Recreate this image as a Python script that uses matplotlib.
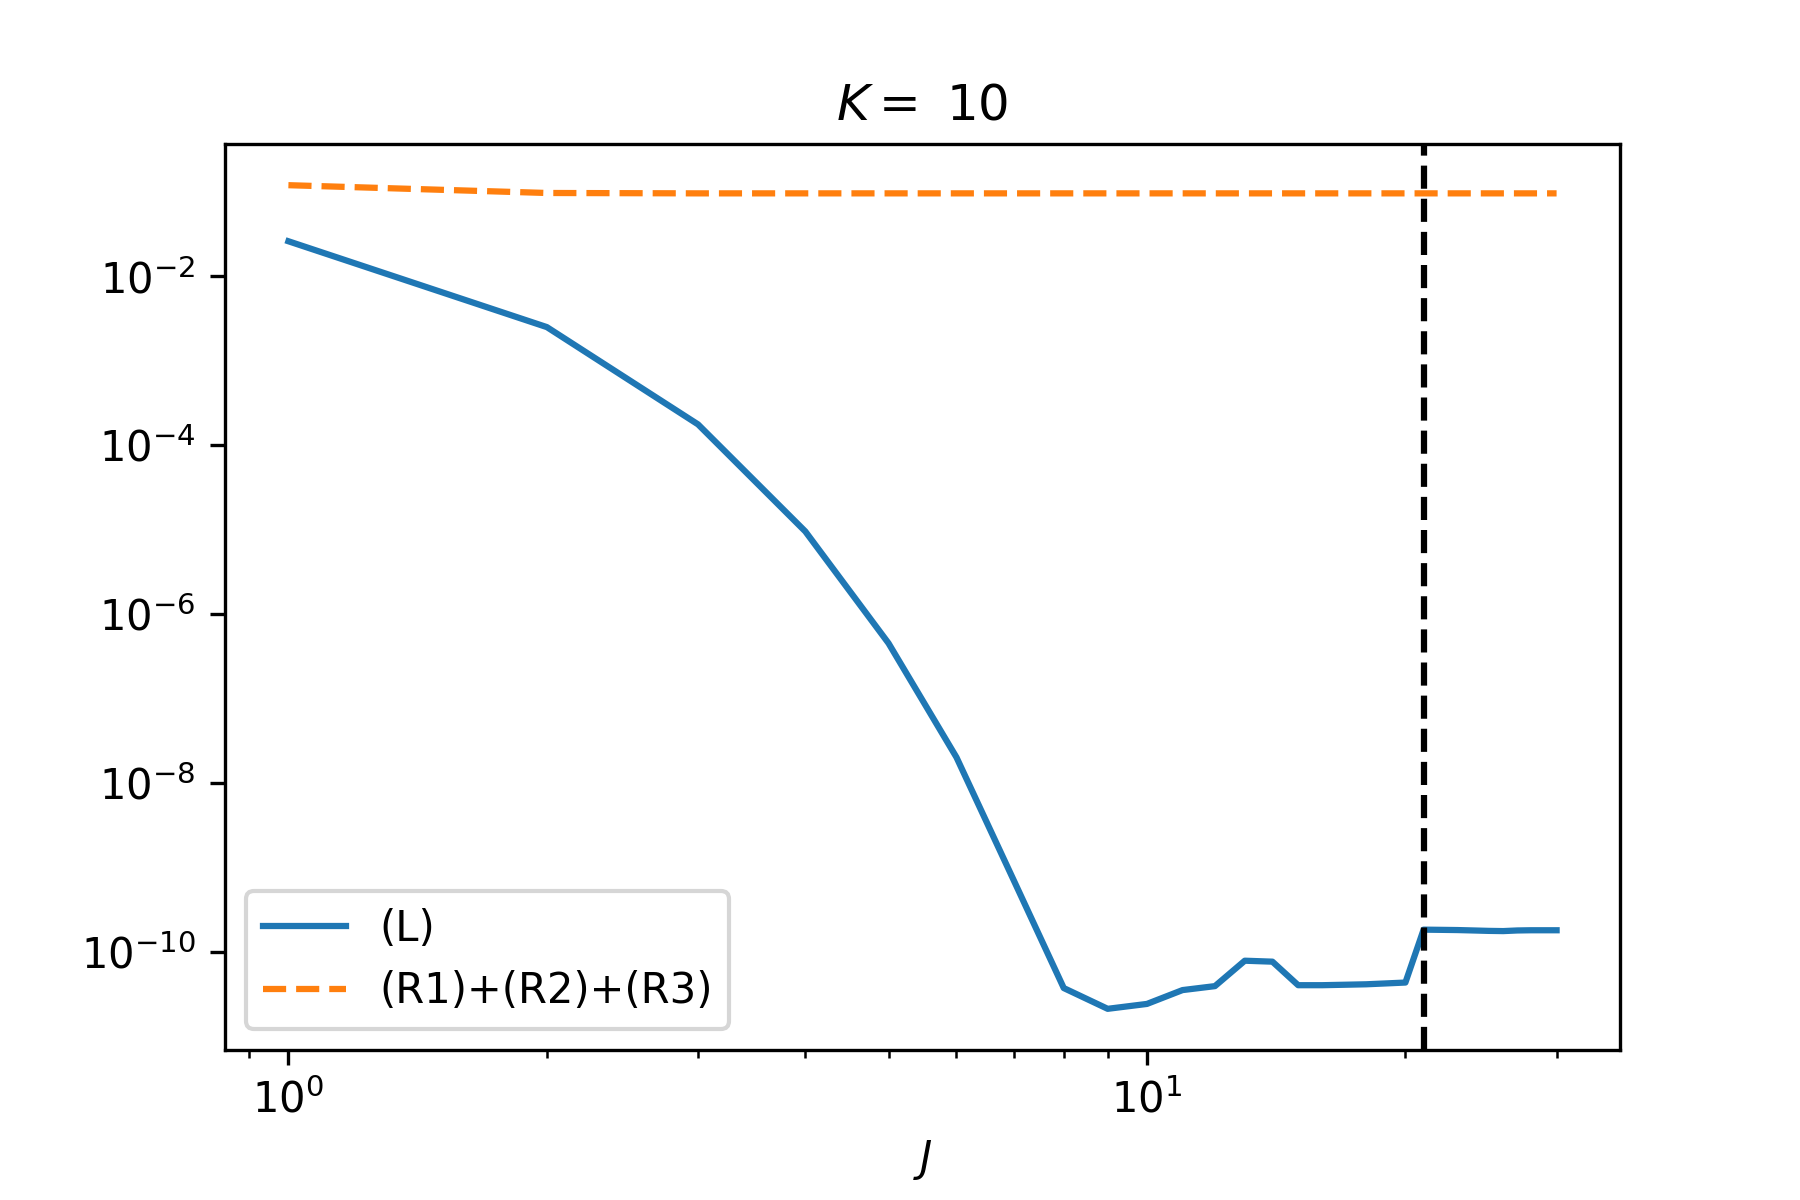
import numpy as np
import matplotlib
matplotlib.use('Agg')
import matplotlib.pyplot as plt

K = 10
J = np.arange(1, 31)

# (L)
L = [2.6e-2, 2.5e-3, 1.76e-4, 9.5e-6, 4.5e-7, 2.0e-8, 6.9e-10, 3.7e-11, 2.1e-11, 2.4e-11,
     3.5e-11, 3.9e-11, 7.8e-11, 7.6e-11, 4.0e-11, 4.0e-11, 4.05e-11, 4.1e-11, 4.2e-11, 4.3e-11,
     1.82e-10, 1.81e-10, 1.80e-10, 1.78e-10, 1.76e-10, 1.75e-10, 1.78e-10, 1.79e-10, 1.79e-10, 1.79e-10]

# (R1)+(R2)+(R3)
R = [0.12, 0.097, 0.096, 0.096, 0.096, 0.096, 0.096, 0.096, 0.096, 0.096,
     0.096, 0.096, 0.096, 0.096, 0.096, 0.096, 0.096, 0.096, 0.096, 0.096,
     0.096, 0.096, 0.096, 0.096, 0.096, 0.096, 0.096, 0.096, 0.096, 0.096]

J_cut = 21

fig = plt.figure(figsize=(6, 4), dpi=300)
plt.subplots_adjust(bottom=0.125)
plt.loglog(J, L, label='(L)')
plt.loglog(J, R, '--', label='(R1)+(R2)+(R3)')
plt.axvline(J_cut, color='k', linestyle='--')
plt.title(r'$K=$ ' + str(K))
plt.xlabel('$J$')
plt.legend(loc='lower left')
plt.savefig('out.png')
